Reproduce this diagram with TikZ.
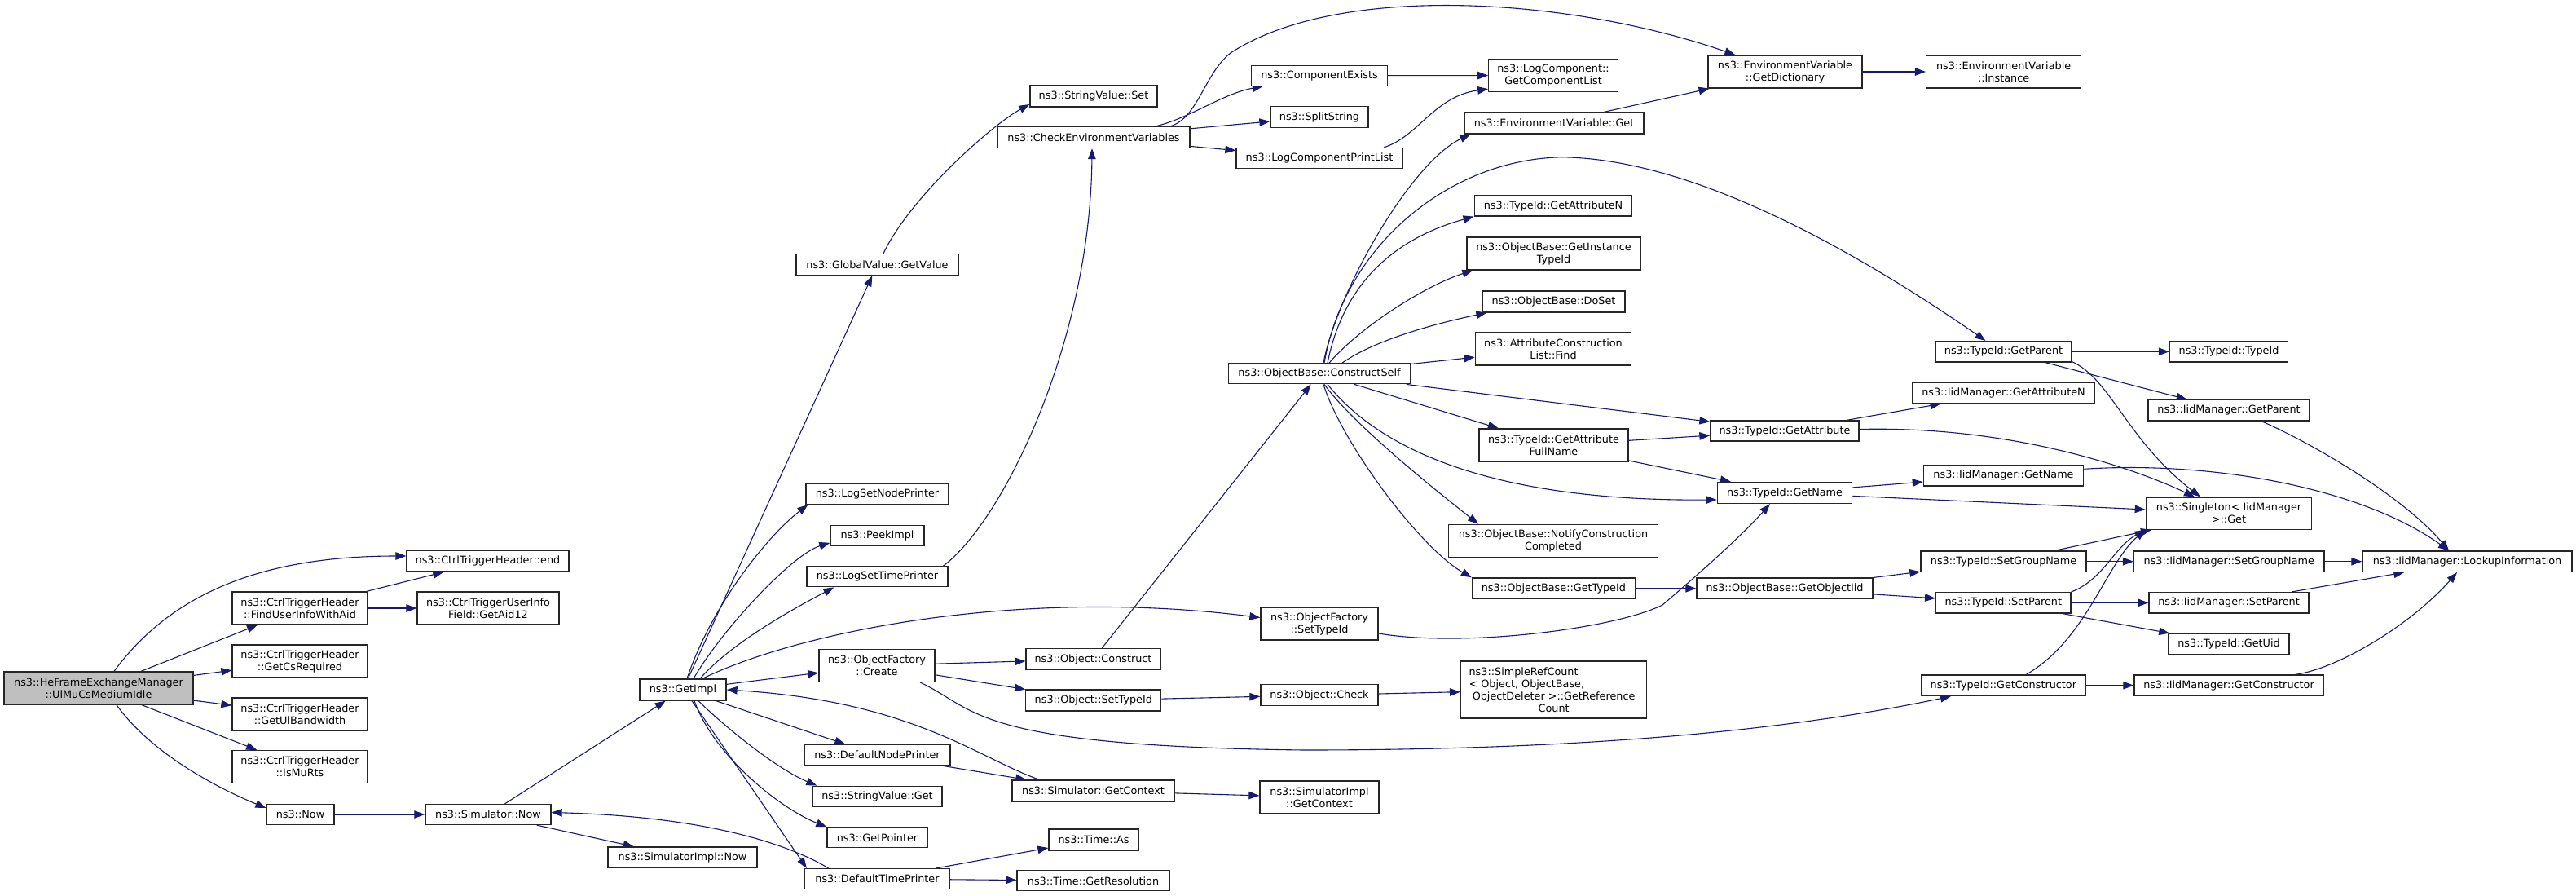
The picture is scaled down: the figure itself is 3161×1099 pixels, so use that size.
\documentclass[tikz,border=0pt]{standalone}
\usepackage{fontspec}
\setmainfont{DejaVu Sans}
\usetikzlibrary{arrows.meta,calc,backgrounds}
\definecolor{edgecol}{HTML}{191970}
\definecolor{rootfill}{HTML}{BFBFBF}
\newcommand{\nodefont}{\fontsize{12.8pt}{15pt}\selectfont}
\begin{document}
\begin{tikzpicture}[x=1pt,y=-1pt,
  fn/.style={draw=black!85, line width=1.3pt, fill=white, inner sep=0pt, align=center, font=\nodefont},
  boxsize/.style 2 args={minimum width=#1pt, minimum height=#2pt},
  conn/.style={draw=edgecol, line width=1.1pt, -{Triangle[length=13pt,width=9.5pt]}}]
\useasboundingbox (0,0) rectangle (3161,1099);
% column 1-3
\node[fn,boxsize={232}{40},fill=rootfill] (A) at (121,844) {ns3::HeFrameExchangeManager\\::UlMuCsMediumIdle};
\node[fn,boxsize={199}{26}] (B) at (598.5,688) {ns3::CtrlTriggerHeader::end};
\node[fn,boxsize={166}{40}] (C) at (368,746) {ns3::CtrlTriggerHeader\\::FindUserInfoWithAid};
\node[fn,boxsize={174}{40}] (D) at (599,746) {ns3::CtrlTriggerUserInfo\\Field::GetAid12};
\node[fn,boxsize={166}{40}] (E) at (368,811) {ns3::CtrlTriggerHeader\\::GetCsRequired};
\node[fn,boxsize={166}{40}] (F) at (368,876) {ns3::CtrlTriggerHeader\\::GetUlBandwidth};
\node[fn,boxsize={166}{40}] (G) at (368,940.5) {ns3::CtrlTriggerHeader\\::IsMuRts};
\node[fn,boxsize={83}{25}] (H) at (368.5,999) {ns3::Now};
\node[fn,boxsize={154}{25}] (I) at (599,999) {ns3::Simulator::Now};
\node[fn,boxsize={183}{25}] (J) at (837.5,1051.5) {ns3::SimulatorImpl::Now};
\node[fn,boxsize={106}{26}] (K) at (838,846) {ns3::GetImpl};
% column 5
\node[fn,boxsize={199}{26}] (AD) at (1076.5,324.5) {ns3::GlobalValue::GetValue};
\node[fn,boxsize={175}{25}] (L) at (1076.5,606) {ns3::LogSetNodePrinter};
\node[fn,boxsize={115}{25}] (M) at (1076.5,656.7) {ns3::PeekImpl};
\node[fn,boxsize={173}{25}] (N) at (1076.5,707.3) {ns3::LogSetTimePrinter};
\node[fn,boxsize={142}{40}] (O) at (1076,816.3) {ns3::ObjectFactory\\::Create};
\node[fn,boxsize={179}{25}] (R) at (1076.5,926) {ns3::DefaultNodePrinter};
\node[fn,boxsize={159}{25}] (S) at (1076.5,976.7) {ns3::StringValue::Get};
\node[fn,boxsize={123}{25}] (T) at (1076.5,1027.3) {ns3::GetPointer};
\node[fn,boxsize={178}{25}] (U) at (1076.5,1078) {ns3::DefaultTimePrinter};
% column 6
\node[fn,boxsize={156}{26}] (AB) at (1342,118) {ns3::StringValue::Set};
\node[fn,boxsize={236}{26}] (AC) at (1342,168.5) {ns3::CheckEnvironmentVariables};
\node[fn,boxsize={165}{26}] (P) at (1341.5,808.5) {ns3::Object::Construct};
\node[fn,boxsize={166}{26}] (Q) at (1341.8,859) {ns3::Object::SetTypeId};
\node[fn,boxsize={199}{26}] (V) at (1341.5,970) {ns3::Simulator::GetContext};
\node[fn,boxsize={110}{26}] (W) at (1342,1030) {ns3::Time::As};
\node[fn,boxsize={187}{25}] (X) at (1341.5,1080.3) {ns3::Time::GetResolution};
% column 7
\node[fn,boxsize={167}{25}] (AE) at (1619,92.7) {ns3::ComponentExists};
\node[fn,boxsize={120}{25.5}] (AF) at (1619,143.5) {ns3::SplitString};
\node[fn,boxsize={204}{25}] (AG) at (1619,194) {ns3::LogComponentPrintList};
\node[fn,boxsize={223}{25}] (AH) at (1619,458.3) {ns3::ObjectBase::ConstructSelf};
\node[fn,boxsize={144}{40}] (Y) at (1619,765) {ns3::ObjectFactory\\::SetTypeId};
\node[fn,boxsize={144}{26}] (Z) at (1619,852.7) {ns3::Object::Check};
\node[fn,boxsize={146}{40}] (AA) at (1619,978) {ns3::SimulatorImpl\\::GetContext};
% column 8
\node[fn,boxsize={158.5}{40}] (AI) at (1906,92.5) {ns3::LogComponent::\\GetComponentList};
\node[fn,boxsize={220}{26}] (AK) at (1907,151) {ns3::EnvironmentVariable::Get};
\node[fn,boxsize={193.5}{25}] (AL) at (1906,252.5) {ns3::TypeId::GetAttributeN};
\node[fn,boxsize={213}{40}] (AM) at (1906.5,311) {ns3::ObjectBase::GetInstance\\TypeId};
\node[fn,boxsize={175}{26}] (AN) at (1906.5,370) {ns3::ObjectBase::DoSet};
\node[fn,boxsize={191.5}{40}] (AO) at (1906,428) {ns3::AttributeConstruction\\List::Find};
\node[fn,boxsize={183}{40}] (AQ) at (1906.5,546) {ns3::TypeId::GetAttribute\\FullName};
\node[fn,boxsize={256.5}{40}] (AS) at (1906,663.3) {ns3::ObjectBase::NotifyConstruction\\Completed};
\node[fn,boxsize={200}{25.6}] (AT) at (1906.4,721.8) {ns3::ObjectBase::GetTypeId};
\node[fn,boxsize={228}{70}] (AV) at (1906.6,846) {\makebox[208pt][l]{ns3::SimpleRefCount}\\\makebox[208pt][l]{< Object, ObjectBase,}\\ObjectDeleter >::GetReference\\Count};
% column 9
\node[fn,boxsize={189}{40}] (AJ) at (2190.5,88) {ns3::EnvironmentVariable\\::GetDictionary};
\node[fn,boxsize={182}{25}] (AP) at (2190,528.5) {ns3::TypeId::GetAttribute};
\node[fn,boxsize={165.5}{26}] (AR) at (2190,604.5) {ns3::TypeId::GetName};
\node[fn,boxsize={216}{25.6}] (AU) at (2190,721.8) {ns3::ObjectBase::GetObjectIid};
% column 10
\node[fn,boxsize={190}{40}] (AW) at (2458.6,88) {ns3::EnvironmentVariable\\::Instance};
\node[fn,boxsize={167}{25.5}] (AX) at (2458.5,431.3) {ns3::TypeId::GetParent};
\node[fn,boxsize={224.4}{25.4}] (AZ) at (2458.5,482) {ns3::IidManager::GetAttributeN};
\node[fn,boxsize={196.4}{25.4}] (BB) at (2458.5,583.3) {ns3::IidManager::GetName};
\node[fn,boxsize={203}{25.4}] (BD) at (2458.5,688.7) {ns3::TypeId::SetGroupName};
\node[fn,boxsize={165.3}{25.4}] (BG) at (2458.3,739.3) {ns3::TypeId::SetParent};
\node[fn,boxsize={201.3}{25.4}] (BJ) at (2458.3,840.7) {ns3::TypeId::GetConstructor};
% column 11
\node[fn,boxsize={145}{25.5}] (AY) at (2735,431.3) {ns3::TypeId::TypeId};
\node[fn,boxsize={198}{25.4}] (BA) at (2735,503.3) {ns3::IidManager::GetParent};
\node[fn,boxsize={203.4}{39.3}] (BC) at (2735,629.7) {ns3::Singleton< IidManager\\>::Get};
\node[fn,boxsize={233.4}{25.4}] (BE) at (2735.3,688.7) {ns3::IidManager::SetGroupName};
\node[fn,boxsize={196}{25.4}] (BH) at (2735,739.3) {ns3::IidManager::SetParent};
\node[fn,boxsize={148}{25.4}] (BI) at (2735,790) {ns3::TypeId::GetUid};
\node[fn,boxsize={232}{25.4}] (BK) at (2735,840.7) {ns3::IidManager::GetConstructor};
% column 12
\node[fn,boxsize={257}{25.4}] (BF) at (3027.5,688.7) {ns3::IidManager::LookupInformation};

\begin{scope}[on background layer]
\fill[white] (0,0) rectangle (3161,1099);
% from root
\draw[conn] ($(A.north)+(19,0)$) .. controls (205,735) and (310,682) .. ($(B.west)+(0,-6)$);
\draw[conn] (A) -- (C);
\draw[conn] (A) -- (E);
\draw[conn] (A) -- (F);
\draw[conn] (A) -- (G);
\draw[conn] ($(A.south)+(22,0)$) .. controls (190,930) and (280,972) .. ($(H.west)+(0,-8)$);
\draw[conn] (C) -- (B);
\draw[conn] (C) -- (D);
\draw[conn] (H) -- (I);
\draw[conn] (I) -- (K);
\draw[conn] (I) -- (J);
% DefaultTimePrinter
\draw[conn] ($(U.north)+(-60,0)$) .. controls (975,1040) and (880,1002) .. ($(I.east)+(0,-2.5)$);
\draw[conn] (U) -- (W);
\draw[conn] (U) -- (X);
% GetImpl
\draw[conn] (K) -- (AD);
\draw[conn] ($(K.north)+(5,0)$) .. controls (873,743) and (942,657) .. ($(L.south west)+(3,0)$);
\draw[conn] ($(K.north)+(13,0)$) .. controls (886,772) and (972,680) .. ($(M.south west)+(0,-4)$);
\draw[conn] ($(K.north)+(21,0)$) .. controls (899,787) and (977,745) .. ($(N.south west)+(34,0)$);
\draw[conn] ($(K.north)+(24,0)$) .. controls (980,775) and (1250,720) .. ($(Y.west)+(0,-7.5)$);
\draw[conn] (K) -- (O);
\draw[conn] (K) -- (R);
\draw[conn] ($(K.south)+(19,0)$) .. controls (892,894) and (955,944) .. ($(S.north west)+(6,0)$);
\draw[conn] ($(K.south)+(14,0)$) .. controls (877,929) and (960,993) .. (T.north west);
\draw[conn] ($(K.south)+(11,0)$) -- ($(U.north west)+(3,0)$);
% Simulator::GetContext
\draw[conn] ($(V.north)+(-66,0)$) .. controls (1200,930) and (1120,860) .. (K.east);
\draw[conn] (V) -- (AA);
\draw[conn] (R) -- (V);
% ObjectFactory::Create
\draw[conn] (O) -- (P);
\draw[conn] (O) -- (Q);
\draw[conn] ($(O.south)+(53,0)$) .. controls (1200,870) and (1190,915) .. (1600,920) .. controls (1950,920) and (2200,895) .. ($(BJ.south west)+(37,0)$);
\draw[conn] (P) -- (AH);
\draw[conn] (Q) -- (Z);
\draw[conn] (Z) -- (AV);
\draw[conn] ($(Y.east)+(0,12)$) .. controls (1800,795) and (1985,770) .. (2040,742) .. controls (2060,725) and (2130,665) .. ($(AR.south)+(-18,0)$);
% upper part
\draw[conn] ($(AD.north)+(7.5,0)$) .. controls (1118,240) and (1219,152) .. ($(AB.west)+(0,10)$);
\draw[conn] ($(N.north)+(81,0)$) .. controls (1230,640) and (1338,420) .. ($(AC.south)+(-2,0)$);
\draw[conn] ($(AC.north)+(76,0)$) .. controls (1460,145) and (1500,115) .. ($(AE.south west)+(15,0)$);
\draw[conn] ($(AC.north)+(94,0)$) .. controls (1470,145) and (1478,90) .. (1510,65) .. controls (1640,-20) and (1920,-5) .. ($(AJ.north west)+(34,0)$);
\draw[conn] (AC) -- (AF);
\draw[conn] (AC) -- (AG);
\draw[conn] (AE) -- (AI);
\draw[conn] ($(AG.north)+(79,0)$) .. controls (1740,168) and (1760,118) .. ($(AI.south west)+(0,-4)$);
\draw[conn] (AK) -- (AJ);
\draw[conn] (AJ) -- (AW);
% ConstructSelf
\draw[conn] ($(AH.north)+(5,0)$) .. controls (1640,360) and (1730,200) .. ($(AK.south west)+(8,0)$);
\draw[conn] ($(AH.north)+(6,0)$) .. controls (1650,300) and (1780,195) .. (1917,192.8) .. controls (2080,195) and (2280,310) .. ($(AX.north)+(-22,0)$);
\draw[conn] ($(AH.north)+(10,0)$) .. controls (1650,340) and (1720,290) .. (AL.south west);
\draw[conn] ($(AH.north)+(12,0)$) .. controls (1670,400) and (1750,350) .. ($(AM.south west)+(8,0)$);
\draw[conn] ($(AH.north)+(28,0)$) .. controls (1690,415) and (1770,395) .. ($(AN.south west)+(6,0)$);
\draw[conn] (AH) -- (AO);
\draw[conn] (AH) -- (AP);
\draw[conn] (AH) -- (AQ);
\draw[conn] ($(AH.south)+(10,0)$) .. controls (1700,560) and (1850,615) .. ($(AR.west)+(0,8.5)$);
\draw[conn] ($(AH.south)+(6,0)$) .. controls (1660,520) and (1760,600) .. ($(AS.north west)+(37,0)$);
\draw[conn] ($(AH.south)+(5,0)$) .. controls (1645,540) and (1740,670) .. (AT.north west);
\draw[conn] (AQ) -- (AP);
\draw[conn] (AQ) -- (AR);
% TypeId level
\draw[conn] (AP) -- (AZ);
\draw[conn] ($(AP.east)+(0,-2)$) .. controls (2470,522) and (2620,575) .. ($(BC.north)+(-42,0)$);
\draw[conn] (AR) -- (BB);
\draw[conn] (AR) -- (BC);
\draw[conn] (AT) -- (AU);
\draw[conn] (AU) -- (BD);
\draw[conn] (AU) -- (BG);
\draw[conn] (AX) -- (AY);
\draw[conn] (AX) -- (BA);
\draw[conn] ($(AX.south east)+(0,-1)$) .. controls (2590,465) and (2610,540) .. ($(BC.north)+(-35,0)$);
\draw[conn] ($(BA.south)+(40,0)$) .. controls (2840,545) and (2950,610) .. ($(BF.north)+(-22.5,0)$);
\draw[conn] ($(BB.east)+(0,-8)$) .. controls (2720,565) and (2900,600) .. ($(BF.north)+(-22.5,0)$);
\draw[conn] (BD) -- (BC);
\draw[conn] (BD) -- (BE);
\draw[conn] (BE) -- (BF);
\draw[conn] (BG.north east) .. controls (2580,712) and (2595,670) .. (BC.south west);
\draw[conn] (BG) -- (BH);
\draw[conn] (BG) -- (BI);
\draw[conn] (BH) -- (BF);
\draw[conn] ($(BJ.north)+(28,0)$) .. controls (2560,785) and (2585,690) .. (BC.south west);
\draw[conn] (BJ) -- (BK);
\draw[conn] ($(BK.north)+(81.5,0)$) .. controls (2870,820) and (2960,765) .. ($(BF.south)+(-12.5,0)$);
\end{scope}
\end{tikzpicture}
\end{document}
